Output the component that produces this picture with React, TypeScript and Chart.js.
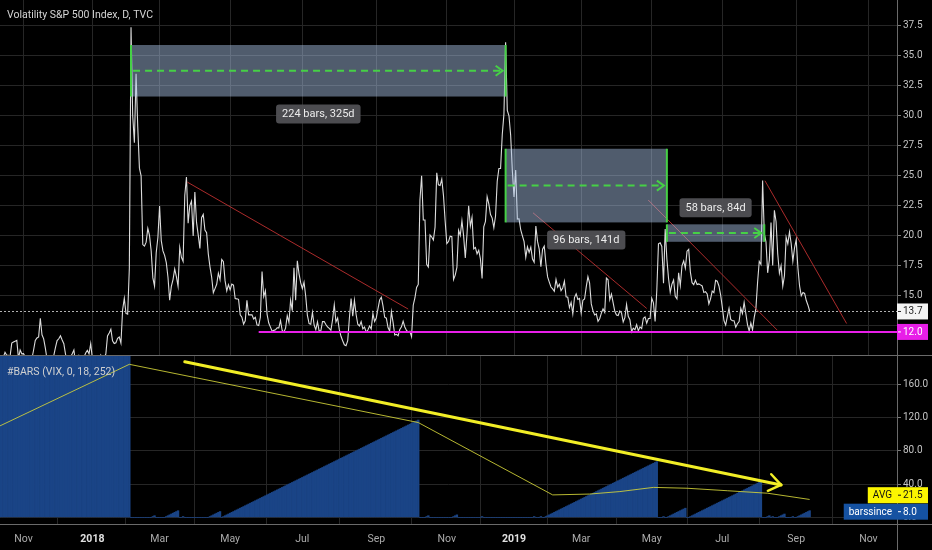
import React, { useEffect, useRef } from 'react';
import { Chart, registerables } from 'chart.js';

Chart.register(...registerables);

// ---------------- data (daily closes, one value per trading bar) ----------------
const VIX_2017_OCT = [9.91, 9.61, 9.91, 10.31, 10.07, 10.05, 9.97, 11.07, 11.16, 11.23, 11.3, 9.8, 10.5, 10.18];
const VIX_2017_NOV = [10.2, 9.93, 9.14, 9.4, 9.89, 9.78, 10.5, 11.29, 11.5, 11.59, 13.13, 11.76, 11.43, 10.65, 9.73, 9.88, 9.67, 9.87, 10.03, 10.7, 11.28];
const VIX_2017_DEC = [11.43, 11.68, 11.33, 11.02, 10.16, 9.58, 9.34, 9.92, 10.18, 10.49, 9.42, 9.53, 10.03, 9.72, 9.62, 9.9, 10.25, 10.47, 10.18, 11.04];
const VIX_2018_JAN = [9.77, 9.15, 9.22, 9.22, 9.52, 10.08, 9.82, 9.88, 10.16, 11.66, 11.91, 12.22, 11.27, 11.03, 11.1, 11.47, 11.58, 11.08, 13.84, 14.79, 13.54];
const VIX_2018_FEB = [13.47, 17.31, 37.32, 29.98, 27.73, 33.46, 29.06, 25.61, 24.97, 19.26, 19.13, 19.46, 20.6, 20.02, 18.72, 16.49, 15.8, 18.59, 19.85];
const VIX_2018_MAR = [22.47, 19.59, 18.73, 18.36, 17.76, 16.54, 14.64, 15.78, 16.35, 17.23, 16.59, 15.8, 19.02, 18.2, 17.86, 23.34, 24.87, 21.03, 22.5, 22.87, 19.97];
const VIX_2018_APR = [23.62, 21.1, 20.06, 18.94, 21.49, 21.77, 20.47, 20.24, 18.49, 17.41, 16.56, 15.25, 15.6, 15.96, 16.88, 16.34, 18.02, 17.84, 16.24, 15.41, 15.93];
const VIX_2018_MAY = [15.49, 15.97, 15.9, 14.77, 14.75, 14.71, 13.42, 13.23, 12.65, 12.93, 14.63, 13.42, 13.43, 13.42, 13.08, 13.22, 12.58, 12.53, 13.22, 17.02, 14.94, 15.43];
const VIX_2018_JUN = [13.46, 12.74, 12.4, 12.05, 12.13, 12.18, 12.35, 12.34, 12.94, 12.12, 11.98, 12.31, 13.35, 12.79, 14.64, 13.77, 17.33, 14.64, 17.91, 16.85, 16.09];
const VIX_2018_JUL = [15.6, 16.14, 14.97, 13.37, 12.69, 12.64, 13.63, 12.58, 12.18, 12.83, 12.06, 12.1, 12.87, 12.86, 12.62, 12.41, 12.29, 12.14, 13.03, 14.26, 12.83];
const VIX_2018_AUG = [13.15, 12.19, 11.64, 11.27, 10.93, 10.85, 11.27, 13.16, 14.78, 13.31, 14.64, 13.45, 12.64, 12.49, 12.86, 12.25, 12.41, 11.99, 12.16, 12.5, 12.25, 13.53, 12.86];
const VIX_2018_SEP = [13.16, 13.91, 14.65, 14.88, 14.16, 13.22, 13.14, 12.37, 12.07, 13.68, 12.79, 11.75, 11.8, 11.68, 12.2, 12.42, 12.89, 12.41, 12.12];
const VIX_2018_OCT = [12.0, 12.05, 11.61, 14.22, 14.82, 15.69, 15.95, 22.96, 24.98, 21.31, 21.3, 17.62, 17.4, 20.06, 19.89, 19.64, 20.71, 25.23, 24.22, 24.16, 24.7, 23.35, 21.23];
const VIX_2018_NOV = [19.34, 19.51, 19.96, 19.91, 16.36, 16.72, 17.36, 20.45, 20.02, 21.25, 19.98, 18.14, 20.1, 22.48, 20.8, 21.52, 18.9, 19.02, 18.49, 18.79, 18.07];
const VIX_2018_DEC = [16.44, 20.74, 21.19, 23.23, 22.64, 21.76, 21.46, 20.65, 21.63, 24.52, 25.58, 25.58, 28.38, 30.11, 36.07, 30.41, 29.96, 28.34, 25.42];
const VIX_2019_JAN = [23.22, 25.45, 21.38, 21.4, 20.47, 19.98, 19.5, 18.19, 19.07, 18.6, 19.04, 18.06, 17.8, 20.8, 19.52, 18.89, 17.42, 18.87, 19.13, 17.66, 16.57];
const VIX_2019_FEB = [16.14, 15.73, 15.57, 15.38, 16.37, 15.72, 15.97, 15.43, 15.65, 16.22, 14.91, 14.88, 14.02, 14.46, 13.51, 14.85, 15.17, 14.7, 14.78];
const VIX_2019_MAR = [13.57, 14.63, 14.74, 15.74, 16.59, 16.05, 14.33, 13.77, 13.41, 13.5, 12.88, 13.1, 13.56, 13.91, 13.63, 16.48, 16.33, 14.68, 15.15, 14.43, 13.71];
const VIX_2019_APR = [13.4, 13.36, 13.74, 13.58, 12.82, 13.18, 14.28, 13.3, 13.02, 12.01, 12.32, 12.18, 12.6, 12.09, 12.42, 12.28, 13.14, 13.25, 12.73, 13.11, 13.12];
const VIX_2019_MAY = [14.8, 14.42, 12.87, 15.44, 19.32, 19.4, 19.1, 16.04, 20.55, 18.06, 16.44, 15.29, 15.96, 16.31, 14.95, 14.75, 16.92, 15.85, 17.5, 17.9, 17.3, 18.71];
const VIX_2019_JUN = [18.86, 16.97, 16.09, 15.93, 16.3, 15.94, 15.99, 15.91, 15.82, 15.28, 15.35, 15.15, 14.33, 14.75, 15.4, 15.26, 16.28, 16.21, 15.82, 15.08];
const VIX_2019_JUL = [14.06, 12.93, 12.57, 13.28, 13.96, 13.03, 12.93, 12.93, 12.39, 12.68, 12.86, 13.97, 13.53, 14.45, 13.53, 12.61, 12.07, 12.74, 12.16, 13.21, 13.94, 16.12];
const VIX_2019_AUG = [17.87, 17.61, 24.59, 20.17, 19.49, 16.91, 17.97, 21.09, 17.52, 22.1, 21.18, 18.47, 16.88, 17.5, 15.8, 16.68, 19.87, 19.32, 20.31, 19.35, 17.88, 18.98];
const VIX_2019_SEP = [19.66, 17.33, 15.82, 15.0, 15.27, 15.2, 14.61, 14.22, 13.74];

const VIX_CLOSE = [
  ...VIX_2017_OCT, ...VIX_2017_NOV, ...VIX_2017_DEC,
  ...VIX_2018_JAN, ...VIX_2018_FEB, ...VIX_2018_MAR, ...VIX_2018_APR, ...VIX_2018_MAY, ...VIX_2018_JUN,
  ...VIX_2018_JUL, ...VIX_2018_AUG, ...VIX_2018_SEP, ...VIX_2018_OCT, ...VIX_2018_NOV, ...VIX_2018_DEC,
  ...VIX_2019_JAN, ...VIX_2019_FEB, ...VIX_2019_MAR, ...VIX_2019_APR, ...VIX_2019_MAY, ...VIX_2019_JUN,
  ...VIX_2019_JUL, ...VIX_2019_AUG, ...VIX_2019_SEP,
];

const LAST_CLOSE = 13.7;
const SUPPORT_LEVEL = 12.0;
const SUPPORT_FROM_BAR = 154;

// #BARS (VIX, 0, 18, 252): bars since VIX last closed above 18
const BARS_THRESHOLD = 18;
const BARS_SINCE_BEFORE_START = 234;
const BARS_SINCE_LAST = 8.0;
const AVG_LAST = 21.5;

// tick positions (bar index of the first trading day of the month) and labels
const MONTH_TICK_BARS = [14, 55, 95, 137, 180, 224, 266, 306, 346, 388, 430, 474, 517];
const MONTH_TICK_LABELS = ['Nov', '2018', 'Mar', 'May', 'Jul', 'Sep', 'Nov', '2019', 'Mar', 'May', 'Jul', 'Sep', 'Nov'];
const PRICE_TICKS = [12.5, 15, 17.5, 20, 22.5, 25, 27.5, 30, 32.5, 35, 37.5];
const BARS_TICKS = [0, 40, 80, 120, 160];

// date range measurements
const RANGE_FROM_BARS = [78, 301, 397];
const RANGE_TO_BARS = [301, 397, 455];
const RANGE_TOP = [35.84, 27.22, 20.94];
const RANGE_BOTTOM = [31.56, 21.1, 19.49];
const RANGE_LABELS = ['224 bars, 325d', '96 bars, 141d', '58 bars, 84d'];

// red trend lines
const TREND_FROM_BARS = [111.5, 317.3, 385.9, 455.4];
const TREND_FROM_VALUES = [24.45, 21.9, 22.96, 24.56];
const TREND_TO_BARS = [243, 385, 462.7, 504];
const TREND_TO_VALUES = [13.9, 13.95, 12.15, 12.7];

// AVG line of the #BARS pane (vertices)
const AVG_BARS = [0, 77, 249, 329, 351, 369, 389, 409, 433, 457, 482];
const AVG_VALUES = [110, 184, 114, 27, 28, 31, 36, 35, 32, 29, 21.5];

// yellow arrow in the #BARS pane
const ARROW_FROM_BAR = 110;
const ARROW_FROM_VALUE = 187;
const ARROW_TO_BAR = 465;
const ARROW_TO_VALUE = 39;

const TITLE = 'Volatility S&P 500 Index, D, TVC';
const INDICATOR_TITLE = '#BARS (VIX, 0, 18, 252)';

// ---------------- layout / style ----------------
const W = 932;
const TOP_H = 356;
const BOT_H = 194;
const AXIS_W = 35;
const X_MIN = 0;
const X_MAX = 534;
const FONT = "Roboto, 'Noto Sans', sans-serif";
const GRID = '#262626';
const AXIS_LINE = '#6a6a6a';
const TICK_TEXT = '#c4c4c4';
const RANGE_LABEL_BELOW = [true, true, false];

const BARS_SINCE = (() => {
  let n = BARS_SINCE_BEFORE_START;
  return VIX_CLOSE.map((v) => (n = v > BARS_THRESHOLD ? 0 : n + 1));
})();

function line(ctx: any, x1: number, y1: number, x2: number, y2: number) {
  ctx.beginPath();
  ctx.moveTo(x1, y1);
  ctx.lineTo(x2, y2);
  ctx.stroke();
}

function roundRect(ctx: any, x: number, y: number, w: number, h: number, r: number) {
  ctx.beginPath();
  ctx.moveTo(x + r, y);
  ctx.arcTo(x + w, y, x + w, y + h, r);
  ctx.arcTo(x + w, y + h, x, y + h, r);
  ctx.arcTo(x, y + h, x, y, r);
  ctx.arcTo(x, y, x + w, y, r);
  ctx.closePath();
}

function noPadding(s: any) {
  s.paddingTop = 0;
  s.paddingBottom = 0;
  s.paddingLeft = 0;
  s.paddingRight = 0;
}

const topPlugin = {
  id: 'vixDrawings',
  afterDatasetsDraw(chart: any) {
    const { ctx, chartArea: a } = chart;
    const xs = chart.scales.x;
    const ys = chart.scales.y;
    const px = (b: number) => xs.getPixelForValue(b);
    const py = (v: number) => ys.getPixelForValue(v);
    ctx.save();
    ctx.beginPath();
    ctx.rect(a.left, a.top, a.right - a.left, a.bottom - a.top);
    ctx.clip();

    // last price dotted line
    ctx.strokeStyle = 'rgba(195,195,195,0.9)';
    ctx.lineWidth = 1;
    ctx.setLineDash([2, 2]);
    const yl = Math.round(py(LAST_CLOSE)) + 0.5;
    line(ctx, a.left, yl, a.right, yl);
    ctx.setLineDash([]);

    // trend lines
    ctx.strokeStyle = 'rgba(190,48,48,0.9)';
    ctx.lineWidth = 1;
    for (let i = 0; i < TREND_FROM_BARS.length; i++) {
      line(ctx, px(TREND_FROM_BARS[i]), py(TREND_FROM_VALUES[i]), px(TREND_TO_BARS[i]), py(TREND_TO_VALUES[i]));
    }

    // support ray
    ctx.strokeStyle = '#e81ee8';
    ctx.lineWidth = 2;
    const ys12 = py(SUPPORT_LEVEL);
    line(ctx, px(SUPPORT_FROM_BAR), ys12, a.right, ys12);

    // date ranges
    for (let i = 0; i < RANGE_FROM_BARS.length; i++) {
      const x1 = px(RANGE_FROM_BARS[i]);
      const x2 = px(RANGE_TO_BARS[i]);
      const yT = py(RANGE_TOP[i]);
      const yB = py(RANGE_BOTTOM[i]);
      ctx.fillStyle = 'rgba(170,195,232,0.47)';
      ctx.fillRect(x1, yT, x2 - x1, yB - yT);
      ctx.strokeStyle = '#46d046';
      ctx.lineWidth = 2;
      line(ctx, x1, yT, x1, yB);
      line(ctx, x2, yT, x2, yB);
      const yM = (yT + yB) / 2;
      ctx.setLineDash([7, 5]);
      line(ctx, x1 + 2, yM, x2 - 3, yM);
      ctx.setLineDash([]);
      ctx.beginPath();
      ctx.moveTo(x2 - 10, yM - 5);
      ctx.lineTo(x2 - 3, yM);
      ctx.lineTo(x2 - 10, yM + 5);
      ctx.stroke();
    }
    for (let i = 0; i < RANGE_FROM_BARS.length; i++) {
      const x1 = px(RANGE_FROM_BARS[i]);
      const x2 = px(RANGE_TO_BARS[i]);
      const yT = py(RANGE_TOP[i]);
      const yB = py(RANGE_BOTTOM[i]);
      ctx.font = `11px ${FONT}`;
      const tw = ctx.measureText(RANGE_LABELS[i]).width;
      const w = tw + 12;
      const h = 19;
      const cx = (x1 + x2) / 2;
      const top = RANGE_LABEL_BELOW[i] ? yB + 8 : yT - 7 - h;
      ctx.fillStyle = 'rgba(80,80,84,0.95)';
      roundRect(ctx, cx - w / 2, top, w, h, 3);
      ctx.fill();
      ctx.fillStyle = '#ececec';
      ctx.textAlign = 'center';
      ctx.textBaseline = 'middle';
      ctx.fillText(RANGE_LABELS[i], cx, top + h / 2 + 0.5);
    }
    ctx.restore();
  },
  afterDraw(chart: any) {
    const { ctx, chartArea: a } = chart;
    const ys = chart.scales.y;
    ctx.save();
    // axis lines
    ctx.strokeStyle = AXIS_LINE;
    ctx.lineWidth = 1;
    line(ctx, a.right + 0.5, 0, a.right + 0.5, chart.height);
    line(ctx, 0, chart.height - 0.5, chart.width, chart.height - 0.5);

    // price labels
    const drawTag = (v: number, text: string, bg: string, fg: string) => {
      const yc = ys.getPixelForValue(v);
      ctx.fillStyle = bg;
      ctx.fillRect(a.right, yc - 8, 31, 16);
      ctx.strokeStyle = fg;
      line(ctx, a.right + 1, yc, a.right + 4, yc);
      ctx.fillStyle = fg;
      ctx.font = `10px ${FONT}`;
      ctx.textAlign = 'left';
      ctx.textBaseline = 'middle';
      ctx.fillText(text, a.right + 6, yc + 0.5);
    };
    drawTag(LAST_CLOSE, LAST_CLOSE.toFixed(1), '#f4f4f4', '#222222');
    drawTag(SUPPORT_LEVEL, SUPPORT_LEVEL.toFixed(1), '#e81ee8', '#ffffff');

    // title
    ctx.fillStyle = '#d4d4d4';
    ctx.font = `10.5px ${FONT}`;
    ctx.textAlign = 'left';
    ctx.textBaseline = 'middle';
    ctx.fillText(TITLE, 7, 15);
    ctx.restore();
  },
};

const bottomPlugin = {
  id: 'barsDrawings',
  afterDatasetsDraw(chart: any) {
    const { ctx, chartArea: a } = chart;
    const xs = chart.scales.x;
    const ys = chart.scales.y;
    ctx.save();
    ctx.beginPath();
    ctx.rect(a.left, a.top, a.right - a.left, a.bottom - a.top);
    ctx.clip();
    const x1 = xs.getPixelForValue(ARROW_FROM_BAR);
    const y1 = ys.getPixelForValue(ARROW_FROM_VALUE);
    const x2 = xs.getPixelForValue(ARROW_TO_BAR);
    const y2 = ys.getPixelForValue(ARROW_TO_VALUE);
    ctx.strokeStyle = '#f2ee26';
    ctx.lineCap = 'round';
    ctx.lineWidth = 3;
    line(ctx, x1, y1, x2, y2);
    const ang = Math.atan2(y2 - y1, x2 - x1) + Math.PI;
    ctx.lineWidth = 2.5;
    for (const s of [-1, 1]) {
      const aa = ang + s * 0.62;
      line(ctx, x2, y2, x2 + 14.5 * Math.cos(aa), y2 + 14.5 * Math.sin(aa));
    }
    ctx.fillStyle = '#d0d0d0';
    ctx.font = `10.5px ${FONT}`;
    ctx.textAlign = 'left';
    ctx.textBaseline = 'middle';
    ctx.fillText(INDICATOR_TITLE, 7, a.top + 16);
    ctx.restore();
  },
  afterDraw(chart: any) {
    const { ctx, chartArea: a } = chart;
    const ys = chart.scales.y;
    ctx.save();
    ctx.strokeStyle = AXIS_LINE;
    ctx.lineWidth = 1;
    line(ctx, a.right + 0.5, 0, a.right + 0.5, chart.height);
    line(ctx, 0, a.bottom + 0.5, chart.width, a.bottom + 0.5);

    ctx.font = `10px ${FONT}`;
    ctx.textBaseline = 'middle';
    const tag = (name: string, value: string, yc: number, bg: string, fg: string) => {
      const nw = ctx.measureText(name).width + 10;
      const left = a.right - nw;
      ctx.fillStyle = bg;
      ctx.fillRect(left, yc - 8, a.right + 31 - left, 16);
      ctx.fillStyle = fg;
      ctx.strokeStyle = fg;
      ctx.textAlign = 'left';
      ctx.fillText(name, left + 5, yc + 0.5);
      ctx.fillText(value, a.right + 6, yc + 0.5);
      line(ctx, a.right + 1, yc, a.right + 4, yc);
    };
    const yb = ys.getPixelForValue(BARS_SINCE_LAST) + 1;
    tag('barssince', BARS_SINCE_LAST.toFixed(1), yb, '#1552a2', '#ffffff');
    tag('AVG', AVG_LAST.toFixed(1), yb - 16.5, '#fbf500', '#111111');
    ctx.restore();
  },
};

const commonYAxis = (min: number, max: number, ticks: number[], hide: number[]) => ({
  position: 'right' as const,
  min,
  max,
  grid: { color: GRID, tickLength: 4, tickColor: '#7a7a7a', drawTicks: true },
  border: { display: false },
  ticks: {
    color: TICK_TEXT,
    font: { family: FONT, size: 10 },
    padding: 2,
    autoSkip: false,
    callback: (v: any) => (hide.includes(Number(v)) ? '' : Number(v).toFixed(1)),
  },
  afterBuildTicks: (s: any) => {
    s.ticks = ticks.map((value) => ({ value }));
  },
  afterFit: (s: any) => {
    s.width = AXIS_W;
    noPadding(s);
  },
});

export default function App() {
  const topRef = useRef<HTMLCanvasElement>(null);
  const botRef = useRef<HTMLCanvasElement>(null);

  useEffect(() => {
    const top = new Chart(topRef.current as HTMLCanvasElement, {
      type: 'line',
      data: {
        datasets: [
          {
            data: VIX_CLOSE.map((v, i) => ({ x: i, y: v })),
            borderColor: 'rgba(232,232,232,0.95)',
            borderWidth: 1.1,
            pointRadius: 0,
            tension: 0,
          },
        ],
      },
      options: {
        responsive: false,
        animation: false,
        events: [],
        layout: { padding: 0 },
        plugins: { legend: { display: false }, tooltip: { enabled: false } },
        scales: {
          x: {
            type: 'linear',
            min: X_MIN,
            max: X_MAX,
            ticks: { display: false },
            grid: { color: GRID, drawTicks: false },
            border: { display: false },
            afterBuildTicks: (s: any) => {
              s.ticks = MONTH_TICK_BARS.map((value) => ({ value }));
            },
            afterFit: (s: any) => {
              s.height = 0;
              noPadding(s);
            },
          },
          y: commonYAxis(10, 39.58, PRICE_TICKS, [12.5]) as any,
        },
      } as any,
      plugins: [topPlugin],
    });

    const bottom = new Chart(botRef.current as HTMLCanvasElement, {
      type: 'bar',
      data: {
        datasets: [
          {
            type: 'line',
            data: AVG_BARS.map((b, i) => ({ x: b, y: AVG_VALUES[i] })),
            borderColor: 'rgba(214,214,58,0.85)',
            borderWidth: 1,
            pointRadius: 0,
            tension: 0,
            order: 0,
          } as any,
          {
            type: 'bar',
            data: BARS_SINCE.map((v, i) => ({ x: i, y: v })),
            backgroundColor: '#1a4486',
            borderWidth: 0,
            barPercentage: 1,
            categoryPercentage: 1,
            order: 1,
          } as any,
        ],
      },
      options: {
        responsive: false,
        animation: false,
        events: [],
        layout: { padding: 0 },
        plugins: { legend: { display: false }, tooltip: { enabled: false } },
        scales: {
          x: {
            type: 'linear',
            min: X_MIN,
            max: X_MAX,
            offset: false,
            grid: { color: GRID, drawTicks: false },
            border: { display: false },
            ticks: {
              autoSkip: false,
              maxRotation: 0,
              padding: 9,
              color: (c: any) => (/^\d{4}$/.test(MONTH_TICK_LABELS[c.index] || '') ? '#e0e0e0' : '#ababab'),
              font: (c: any) => ({
                family: FONT,
                size: 10.5,
                weight: /^\d{4}$/.test(MONTH_TICK_LABELS[c.index] || '') ? 'bold' : 'normal',
              }),
              callback: (_v: any, i: number) => MONTH_TICK_LABELS[i],
            },
            afterBuildTicks: (s: any) => {
              s.ticks = MONTH_TICK_BARS.map((value) => ({ value }));
            },
            afterFit: (s: any) => {
              s.height = 26;
              noPadding(s);
            },
          },
          y: commonYAxis(-8, 194, BARS_TICKS, []) as any,
        },
      } as any,
      plugins: [bottomPlugin],
    });

    return () => {
      top.destroy();
      bottom.destroy();
    };
  }, []);

  return (
    <div
      style={{
        position: 'absolute',
        left: 0,
        top: 0,
        width: W,
        height: TOP_H + BOT_H,
        background: '#000',
        overflow: 'hidden',
      }}
    >
      <canvas ref={topRef} width={W} height={TOP_H} style={{ display: 'block', width: W, height: TOP_H }} />
      <canvas ref={botRef} width={W} height={BOT_H} style={{ display: 'block', width: W, height: BOT_H }} />
    </div>
  );
}
